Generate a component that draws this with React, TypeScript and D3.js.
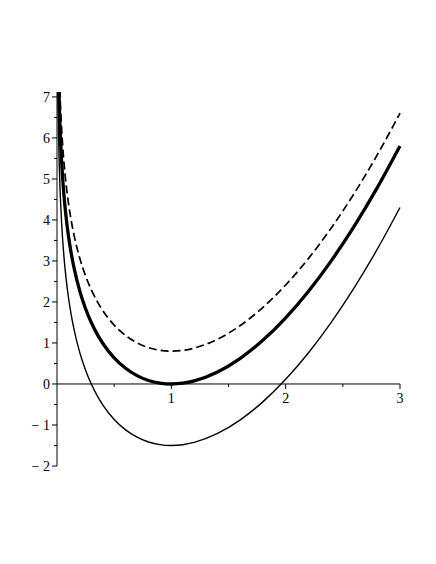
import React, { useRef, useEffect } from "react";
import * as d3 from "d3";

// sample abscissae
const xs = [0.005, 0.0075, 0.01, 0.012, 0.014, 0.017, 0.02, 0.025, 0.03, 0.04, 0.05, 0.06, 0.08, 0.1, 0.125, 0.15, 0.2, 0.25, 0.3, 0.35, 0.4, 0.5, 0.6, 0.7, 0.8, 0.9, 1.0, 1.1, 1.2, 1.4, 1.6, 1.8, 2.0, 2.2, 2.4, 2.6, 2.8, 3.0];

// thick curve (minimum 0 at x = 1)
const thick = [9.597, 8.786, 8.21, 7.846, 7.537, 7.149, 6.824, 6.378, 6.014, 5.439, 4.994, 4.63, 4.058, 3.615, 3.174, 2.817, 2.259, 1.835, 1.498, 1.222, 0.993, 0.636, 0.382, 0.203, 0.086, 0.021, 0, 0.019, 0.075, 0.287, 0.62, 1.064, 1.614, 2.263, 3.009, 3.849, 4.781, 5.803];

// dashed curve (minimum 0.8)
const dashed = [10.397, 9.586, 9.01, 8.646, 8.337, 7.949, 7.624, 7.178, 6.814, 6.239, 5.794, 5.43, 4.858, 4.415, 3.974, 3.617, 3.059, 2.635, 2.298, 2.022, 1.793, 1.436, 1.182, 1.003, 0.886, 0.821, 0.8, 0.819, 0.875, 1.087, 1.42, 1.864, 2.414, 3.063, 3.809, 4.649, 5.581, 6.603];

// thin curve (minimum -1.5)
const thin = [8.097, 7.286, 6.71, 6.346, 6.037, 5.649, 5.324, 4.878, 4.514, 3.939, 3.494, 3.13, 2.558, 2.115, 1.674, 1.317, 0.759, 0.335, -0.002, -0.278, -0.507, -0.864, -1.118, -1.297, -1.414, -1.479, -1.5, -1.481, -1.425, -1.213, -0.88, -0.436, 0.114, 0.763, 1.509, 2.349, 3.281, 4.303];

const xTicks = [1, 2, 3];
const xMinor = [0.5, 1.5, 2.5];
const yTicks = [-2, -1, 0, 1, 2, 3, 4, 5, 6, 7];
const yMinor = [-1.5, -0.5, 0.5, 1.5, 2.5, 3.5, 4.5, 5.5, 6.5];

const W = 436;
const H = 564;

const App = () => {
  const ref = useRef<SVGSVGElement>(null);

  useEffect(() => {
    const svg = d3.select(ref.current);
    svg.selectAll("*").remove();

    const x = d3.scaleLinear().domain([0, 3]).range([57, 400]);
    const y = d3.scaleLinear().domain([-2, 7.12]).range([466, 92]);

    svg.append("defs").append("clipPath").attr("id", "plot")
      .append("rect")
      .attr("x", x(0)).attr("y", y(7.12))
      .attr("width", x(3) - x(0) + 2).attr("height", y(-2) - y(7.12));

    const font = "'Liberation Serif', 'Times New Roman', serif";

    // y axis
    svg.append("line")
      .attr("x1", x(0)).attr("x2", x(0))
      .attr("y1", y(-2)).attr("y2", y(7.12))
      .attr("stroke", "#000").attr("stroke-width", 1);
    svg.append("g").selectAll("line.maj").data(yTicks).join("line")
      .attr("x1", x(0) - 5).attr("x2", x(0))
      .attr("y1", d => y(d)).attr("y2", d => y(d))
      .attr("stroke", "#000");
    svg.append("g").selectAll("line.min").data(yMinor).join("line")
      .attr("x1", x(0) - 3).attr("x2", x(0))
      .attr("y1", d => y(d)).attr("y2", d => y(d))
      .attr("stroke", "#000");
    svg.append("g").selectAll("text").data(yTicks).join("text")
      .attr("x", x(0) - 7).attr("y", d => y(d))
      .attr("dy", "0.35em")
      .attr("text-anchor", "end")
      .attr("font-family", font).attr("font-size", 14)
      .text(d => (d < 0 ? "\u2212 " + Math.abs(d) : String(d)));

    // x axis
    svg.append("line")
      .attr("x1", x(0)).attr("x2", x(3))
      .attr("y1", y(0)).attr("y2", y(0))
      .attr("stroke", "#000").attr("stroke-width", 1);
    svg.append("g").selectAll("line").data(xTicks).join("line")
      .attr("x1", d => x(d)).attr("x2", d => x(d))
      .attr("y1", y(0)).attr("y2", y(0) + 5)
      .attr("stroke", "#000");
    svg.append("g").selectAll("line").data(xMinor).join("line")
      .attr("x1", d => x(d)).attr("x2", d => x(d))
      .attr("y1", y(0)).attr("y2", y(0) + 3)
      .attr("stroke", "#000");
    svg.append("g").selectAll("text").data(xTicks).join("text")
      .attr("x", d => x(d)).attr("y", y(0) + 19)
      .attr("text-anchor", "middle")
      .attr("font-family", font).attr("font-size", 14)
      .text(d => String(d));

    // curves
    const series = [
      { ys: thin, w: 1.4, dash: null },
      { ys: dashed, w: 1.7, dash: "8,4" },
      { ys: thick, w: 3.3, dash: null },
    ];
    const line = d3.line<number>()
      .x((_, i) => x(xs[i]))
      .y(d => y(d))
      .curve(d3.curveMonotoneX);

    const g = svg.append("g").attr("clip-path", "url(#plot)");
    series.forEach(s => {
      g.append("path")
        .attr("d", line(s.ys))
        .attr("fill", "none")
        .attr("stroke", "#000")
        .attr("stroke-width", s.w)
        .attr("stroke-dasharray", s.dash);
    });
  }, []);

  return <svg ref={ref} width={W} height={H} style={{ display: "block", margin: -8, background: "#fff" }} />;
};

export default App;
